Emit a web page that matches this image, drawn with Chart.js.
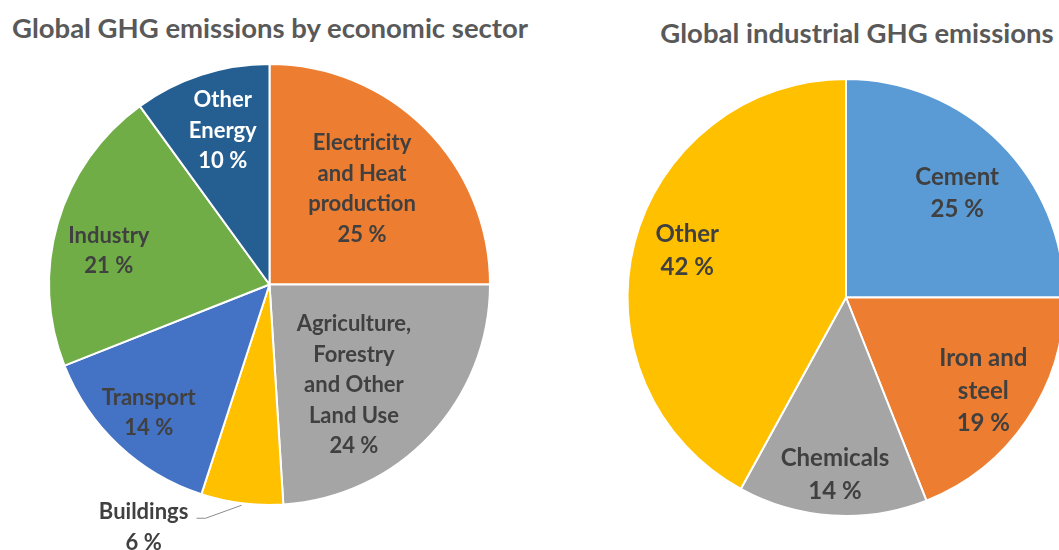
<!DOCTYPE html>
<html>
<head>
<meta charset="utf-8">
<script src="https://cdn.jsdelivr.net/npm/chart.js@4/dist/chart.umd.min.js"></script>
<style>
  html, body { margin: 0; padding: 0; background: #fff; overflow: hidden; width: 1059px; height: 550px; }
  .title { position: absolute; font-family: Lato, "Open Sans", sans-serif; font-weight: bold; color: #595959;
           white-space: nowrap; transform: translateX(-50%); font-size: 27.5px; line-height: 33px; }
  .wrap { position: absolute; top: 0; height: 550px; }
</style>
</head>
<body>
<div class="title" style="left:270px; top:11px;">Global GHG emissions by economic sector</div>
<div class="title" style="left:857px; top:16px;">Global industrial GHG emissions</div>
<div class="wrap" style="left:0; width:540px;"><canvas id="sector" width="540" height="550"></canvas></div>
<div class="wrap" style="left:560px; width:560px;"><canvas id="industry" width="560" height="550"></canvas></div>

<script>
// share of global GHG emissions by economic sector (%)
const sectorNames = ['Electricity\nand Heat\nproduction', 'Agriculture,\nForestry\nand Other\nLand Use',
                     'Buildings', 'Transport', 'Industry', 'Other\nEnergy'];
const sectorShares = [25, 24, 6, 14, 21, 10];
const sectorColors = ['#ED7D31', '#A5A5A5', '#FFC000', '#4472C4', '#70AD47', '#255E91'];

// share of industrial GHG emissions (%)
const industryNames = ['Cement', 'Iron and\nsteel', 'Chemicals', 'Other'];
const industryShares = [25, 19, 14, 42];
const industryColors = ['#5B9BD5', '#ED7D31', '#A5A5A5', '#FFC000'];

// where each slice's text goes, per canvas (kept out of the chart options
// so Chart.js doesn't wrap the nested arrays in its option proxies)
const labelSetup = {
  sector: {
    size: 22, lineHeight: 30.5,
    place: [
      { r: 0.6, shift: [-1, -2] },
      { r: 0.6, shift: [-12, 10] },
      { outside: true, shift: [-98, 22], leader: [[-36, 13], [-45, 13]] },
      { r: 0.8 },
      { r: 0.74, shift: [-4, 12] },
      { r: 0.73, color: '#ffffff', shift: [3, -1] }
    ]
  },
  industry: {
    size: 24, lineHeight: 32.5,
    place: [
      { r: 0.7, shift: [3, 4] },
      { r: 0.76 },
      { r: 0.8, shift: [0, 3] },
      { r: 0.75, shift: [0, -6] }
    ]
  }
};

// writes "name / value %" inside (or next to) every slice
const sliceLabels = {
  id: 'sliceLabels',
  afterDatasetsDraw(chart) {
    const setup = labelSetup[chart.canvas.id];
    const ctx = chart.ctx;
    const meta = chart.getDatasetMeta(0);
    const values = chart.data.datasets[0].data;
    ctx.save();
    ctx.textAlign = 'center';
    ctx.textBaseline = 'middle';
    ctx.font = 'bold ' + setup.size + 'px Lato, "Open Sans", sans-serif';
    meta.data.forEach((arc, i) => {
      const p = arc.getProps(['x', 'y', 'startAngle', 'endAngle', 'outerRadius'], true);
      const mid = (p.startAngle + p.endAngle) / 2;
      const place = setup.place[i];
      const s = place.shift || [0, 0];
      let lx, ly;
      if (place.outside) {
        // label sits outside the pie, joined by a thin leader line
        const ex = p.x + Math.cos(mid) * (p.outerRadius + 2);
        const ey = p.y + Math.sin(mid) * (p.outerRadius + 2);
        ctx.strokeStyle = '#8C8C8C';
        ctx.lineWidth = 1;
        ctx.beginPath();
        ctx.moveTo(ex, ey);
        place.leader.forEach(([dx, dy]) => ctx.lineTo(ex + dx, ey + dy));
        ctx.stroke();
        lx = ex + s[0];
        ly = ey + s[1];
      } else {
        lx = p.x + Math.cos(mid) * p.outerRadius * place.r + s[0];
        ly = p.y + Math.sin(mid) * p.outerRadius * place.r + s[1];
      }
      const lines = chart.data.labels[i].split('\n').concat(values[i] + ' %');
      ctx.fillStyle = place.color || '#404040';
      lines.forEach((t, k) => {
        ctx.fillText(t, lx, ly + (k - (lines.length - 1) / 2) * setup.lineHeight);
      });
    });
    ctx.restore();
  }
};

function pieChart(id, labels, values, colors, padding) {
  return new Chart(document.getElementById(id), {
    type: 'pie',
    data: {
      labels: labels,
      datasets: [{
        data: values,
        backgroundColor: colors,
        borderColor: '#ffffff',
        borderWidth: 2
      }]
    },
    options: {
      responsive: false,
      animation: false,
      layout: { padding: padding },
      plugins: {
        legend: { display: false },
        tooltip: { enabled: false }
      }
    },
    plugins: [sliceLabels]
  });
}

pieChart('sector', sectorNames, sectorShares, sectorColors, { left: 48, right: 49, top: 63, bottom: 44 });
pieChart('industry', industryNames, industryShares, industryColors, { left: 66, right: 54, top: 78, bottom: 33 });
</script>
</body>
</html>
